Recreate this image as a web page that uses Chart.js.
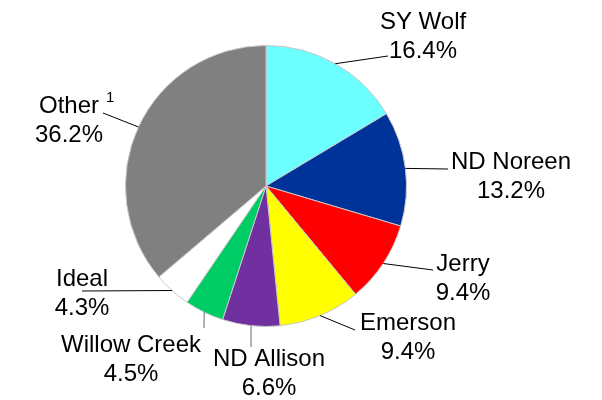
<!DOCTYPE html>
<html lang="en">
<head>
    <meta charset="UTF-8">
    <title>Variety share</title>
    <script src="https://cdn.jsdelivr.net/npm/chart.js"></script>
    <style>
        body { margin: 0; background: #fff; }
        #wrap { width: 602px; height: 400px; }
    </style>
</head>
<body>
    <div id="wrap"><canvas id="pieChart"></canvas></div>

    <script>
        const varieties = ['SY Wolf', 'ND Noreen', 'Jerry', 'Emerson', 'ND Allison', 'Willow Creek', 'Ideal', 'Other'];
        const shares = [16.4, 13.2, 9.4, 9.4, 6.6, 4.5, 4.3, 36.2];
        const sliceColors = ['#6BFFFF', '#003399', '#FF0000', '#FFFF00', '#7030A0', '#00CC66', '#FFFFFF', '#808080'];

        // label layout: end of leader line, text centre x, baseline of first line
        const lineEnds = [[388, 56], [448, 169], [433, 270], [355, 330], [251, 347], [204, 328], [82, 291], [103, 113]];
        const textPos = [[423, 29], [511, 169], [463, 271], [408, 330], [269, 366], [131, 352], [82, 286], [69, 113]];
        const lineColors = ['#000', '#000', '#000', '#000', '#666', '#666', '#000', '#000'];

        const labelPlugin = {
            id: 'leaderLabels',
            afterDatasetsDraw(chart) {
                const ctx = chart.ctx;
                const arcs = chart.getDatasetMeta(0).data;
                ctx.save();
                arcs.forEach((arc, i) => {
                    const p = arc.getProps(['x', 'y', 'startAngle', 'endAngle', 'outerRadius'], true);
                    const mid = (p.startAngle + p.endAngle) / 2;
                    const sx = p.x + Math.cos(mid) * p.outerRadius;
                    const sy = p.y + Math.sin(mid) * p.outerRadius;
                    ctx.beginPath();
                    ctx.moveTo(sx, sy);
                    ctx.lineTo(lineEnds[i][0], lineEnds[i][1]);
                    ctx.strokeStyle = lineColors[i];
                    ctx.lineWidth = 1;
                    ctx.stroke();

                    ctx.fillStyle = '#000';
                    ctx.textAlign = 'center';
                    ctx.textBaseline = 'alphabetic';
                    ctx.font = '24px "Liberation Sans", Arial, sans-serif';
                    const [tx, ty] = textPos[i];
                    ctx.fillText(varieties[i], tx, ty);
                    ctx.fillText(shares[i].toFixed(1) + '%', tx, ty + 29);
                    if (varieties[i] === 'Other') {
                        const w = ctx.measureText('Other').width;
                        ctx.font = '15px "Liberation Sans", Arial, sans-serif';
                        ctx.textAlign = 'left';
                        ctx.fillText('1', tx + w / 2 + 7, ty - 11);
                    }
                });
                ctx.restore();
            }
        };

        const ctx1 = document.getElementById('pieChart').getContext('2d');
        const pieChart = new Chart(ctx1, {
            type: 'pie',
            data: {
                labels: varieties,
                datasets: [{
                    data: shares,
                    backgroundColor: sliceColors,
                    borderColor: '#C8C8C8',
                    borderWidth: 1
                }]
            },
            options: {
                responsive: true,
                maintainAspectRatio: false,
                animation: false,
                layout: { padding: { top: 45, bottom: 73, left: 100, right: 170 } },
                plugins: {
                    legend: { display: false },
                    tooltip: { enabled: false }
                }
            },
            plugins: [labelPlugin]
        });
    </script>
</body>
</html>
